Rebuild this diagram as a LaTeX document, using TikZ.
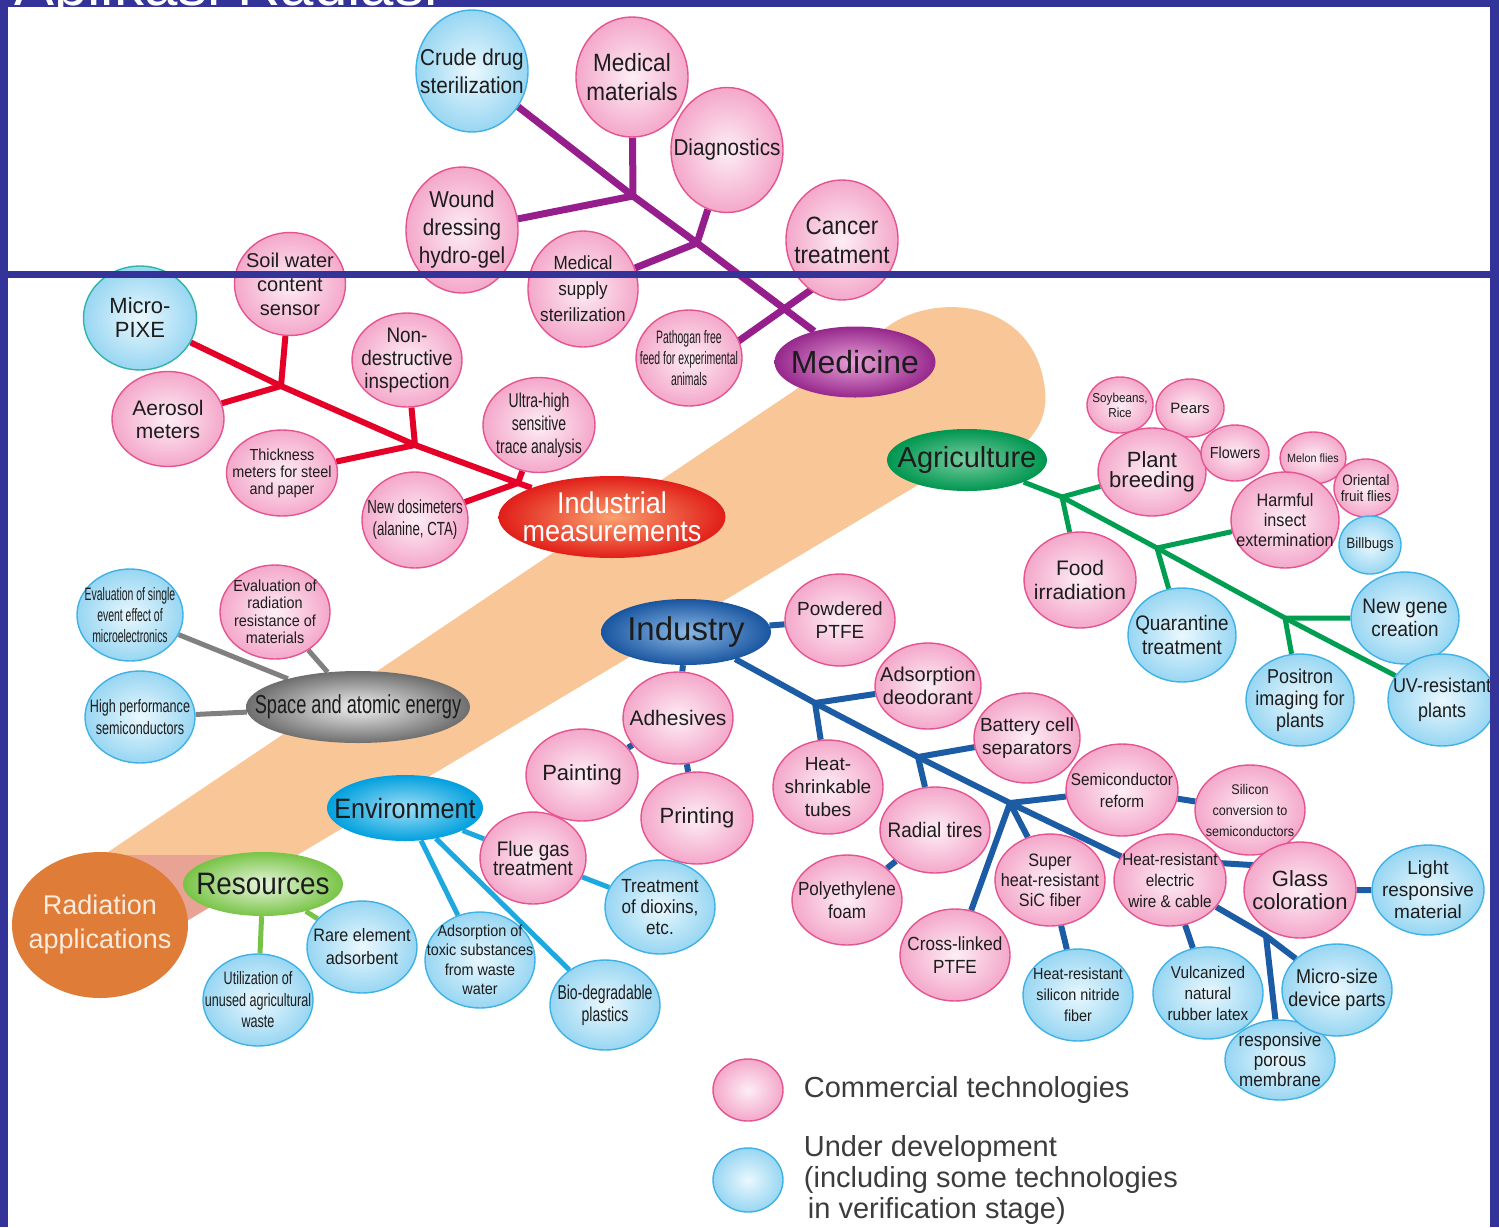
\documentclass[tikz,border=0pt]{standalone}
\usepackage{fontspec}
\setmainfont{Liberation Sans}
\newfontfamily\condfont[FakeStretch=0.9]{Liberation Sans}
\newfontfamily\narrowfont[FakeStretch=0.7]{Liberation Sans}
\newfontfamily\xnarrowfont[FakeStretch=0.58]{Liberation Sans}
\usetikzlibrary{shapes.geometric, positioning, backgrounds}

\newcommand{\fsz}[2]{\fontsize{#1}{#2}\selectfont}

\definecolor{navy}{RGB}{51,51,153}
\definecolor{band}{RGB}{249,198,152}
\definecolor{bandlow}{RGB}{233,163,148}
\definecolor{pinkline}{RGB}{229,84,142}
\definecolor{pinkin}{RGB}{253,238,245}
\definecolor{pinkout}{RGB}{244,168,202}
\definecolor{blueline}{RGB}{62,178,230}
\definecolor{bluein}{RGB}{234,248,254}
\definecolor{blueout}{RGB}{152,214,242}
\definecolor{pixeline}{RGB}{48,180,168}
\definecolor{ink}{RGB}{28,28,28}
\definecolor{legink}{RGB}{60,60,60}
\definecolor{medpurple}{RGB}{150,30,140}
\definecolor{redline}{RGB}{228,0,38}
\definecolor{grnline}{RGB}{0,158,80}
\definecolor{indline}{RGB}{28,92,165}
\definecolor{grayline}{RGB}{128,128,128}
\definecolor{envline}{RGB}{30,168,224}
\definecolor{resline}{RGB}{120,194,72}
\definecolor{medin}{RGB}{232,160,215}
\definecolor{medout}{RGB}{150,40,140}
\definecolor{redin}{RGB}{250,160,110}
\definecolor{redout}{RGB}{225,30,25}
\definecolor{agin}{RGB}{120,205,160}
\definecolor{agout}{RGB}{0,150,80}
\definecolor{indin}{RGB}{140,185,230}
\definecolor{indout}{RGB}{25,85,160}
\definecolor{spin}{RGB}{240,240,240}
\definecolor{spout}{RGB}{110,110,110}
\definecolor{envin}{RGB}{160,222,246}
\definecolor{envout}{RGB}{0,160,222}
\definecolor{resin}{RGB}{232,245,222}
\definecolor{resout}{RGB}{120,196,70}
\definecolor{radfill}{RGB}{222,124,56}
\definecolor{radtext}{RGB}{253,236,222}

\begin{document}
\begin{tikzpicture}[x=1pt, y=-1pt,
      com/.style={ellipse, draw=pinkline, line width=1.4pt, inner color=pinkin, outer color=pinkout,
        inner xsep=-60pt, inner ysep=-56pt, align=center, text=ink},
      dev/.style={com, draw=blueline, inner color=bluein, outer color=blueout},
      topic/.style={ellipse, inner xsep=-120pt, inner ysep=-50pt, align=center, text=ink},
      sz/.style 2 args={minimum width=#1, minimum height=#2},
      twig/.style={draw=#1, line width=6pt, line join=round},
      legtext/.style={inner sep=0pt, text=legink, font=\fsz{29}{31}}
    ]
    \useasboundingbox (0,0) rectangle (1499,1227);

    % medicine
    \node[dev, sz={112}{122}, font={\condfont\fsz{23}{28}}] (crude) at (472,71) {Crude drug\\sterilization};
    \node[com, sz={112}{120}, font={\condfont\fsz{25}{29}}] (medmat) at (632,77) {Medical\\materials};
    \node[com, sz={112}{125}, font={\condfont\fsz{23}{28}}] (diag) at (727,150) {Diagnostics};
    \node[com, sz={112}{126}, font={\condfont\fsz{23}{28}}] (wound) at (462,230) {Wound\\dressing\\hydro-gel};
    \node[com, sz={110}{116}, font={\condfont\fsz{19}{26}}] (medsup) at (583,289) {Medical\\supply\\sterilization};
    \node[com, sz={112}{120}, font={\condfont\fsz{25}{29}}] (cancer) at (842,240) {Cancer\\treatment};
    \node[com, sz={106}{96}, font={\xnarrowfont\fsz{18}{21}}] (pathogen) at (689,358) {Pathogan free\\feed for experimental\\animals};
    \node[topic, sz={161}{71}, inner color=medin, outer color=medout, font=\fsz{32}{34}] (medicine) at (855,362) {Medicine};

    % industrial measurements
    \node[dev, draw=pixeline, sz={113}{104}, font=\fsz{22}{24}] (pixe) at (140,318) {Micro-\\PIXE};
    \node[com, sz={111}{103}, font=\fsz{20}{24}] (soil) at (290,284) {Soil water\\content\\sensor};
    \node[com, sz={112}{95}, font=\fsz{21}{23}] (aerosol) at (168,419) {Aerosol\\meters};
    \node[com, sz={110}{94}, font={\condfont\fsz{21}{23}}] (nondes) at (407,360) {Non-\\destructive\\inspection};
    \node[com, sz={111}{86}, font={\condfont\fsz{16}{17}}] (thick) at (282,473) {Thickness\\meters for steel\\and paper};
    \node[com, sz={112}{95}, font={\narrowfont\fsz{20}{23}}] (ultra) at (539,425) {Ultra-high\\sensitive\\trace analysis};
    \node[com, sz={106}{96}, font={\narrowfont\fsz{19}{22}}] (newdos) at (415,520) {New dosimeters\\(alanine, CTA)};
    \node[topic, sz={227}{82}, inner color=redin, outer color=redout, text=white, font={\condfont\fsz{30}{28}}] (indmeas) at (612,517) {Industrial\\measurements};

    % agriculture
    \node[topic, sz={160}{62}, inner color=agin, outer color=agout, font=\fsz{29}{30}] (agri) at (967,460) {Agriculture};
    \node[com, sz={66}{56}, font={\condfont\fsz{13}{15}}] (soy) at (1120,405) {Soybeans,\\Rice};
    \node[com, sz={68}{58}, font=\fsz{15}{16}] (pears) at (1190,408) {Pears};
    \node[com, sz={108}{88}, font=\fsz{22}{20}] (plant) at (1152,472) {Plant\\breeding};
    \node[com, sz={68}{56}, font={\condfont\fsz{16}{17}}] (flowers) at (1235,453) {Flowers};
    \node[com, sz={66}{52}, font={\condfont\fsz{12}{13}}] (melon) at (1313,458) {Melon flies};
    \node[com, sz={64}{58}, font={\condfont\fsz{15}{16}}] (oriental) at (1366,488) {Oriental\\fruit flies};
    \node[com, sz={108}{96}, font={\condfont\fsz{18}{20}}] (harmful) at (1285,520) {Harmful\\insect\\extermination};
    \node[dev, sz={62}{58}, font={\condfont\fsz{15}{16}}] (billbugs) at (1370,545) {Billbugs};
    \node[com, sz={112}{96}, font=\fsz{21}{24}] (food) at (1080,580) {Food\\irradiation};
    \node[dev, sz={108}{94}, font={\condfont\fsz{21}{24}}] (quar) at (1182,635) {Quarantine\\treatment};
    \node[dev, sz={108}{92}, font={\condfont\fsz{21}{23}}] (newgene) at (1405,618) {New gene\\creation};
    \node[dev, sz={108}{92}, font={\condfont\fsz{20}{22}}] (positron) at (1300,700) {Positron\\imaging for\\plants};
    \node[dev, sz={108}{92}, font={\condfont\fsz{20}{25}}] (uv) at (1442,700) {UV-resistant\\plants};

    % industry
    \node[topic, sz={170}{66}, inner color=indin, outer color=indout, font=\fsz{33}{34}] (industry) at (686,632) {Industry};
    \node[com, sz={110}{92}, font=\fsz{19}{23}] (powd) at (840,620) {Powdered\\PTFE};
    \node[com, sz={110}{92}, font=\fsz{21}{23}] (adhes) at (678,718) {Adhesives};
    \node[com, sz={112}{92}, font=\fsz{22}{23}] (paint) at (582,775) {Painting};
    \node[com, sz={112}{92}, font=\fsz{22}{23}] (print) at (697,818) {Printing};
    \node[com, sz={106}{86}, font=\fsz{20}{23}] (adsorp) at (928,686) {Adsorption\\deodorant};
    \node[com, sz={110}{94}, font=\fsz{19}{23}] (heatsh) at (828,787) {Heat-\\shrinkable\\tubes};
    \node[com, sz={106}{90}, font=\fsz{19}{23}] (battery) at (1027,738) {Battery cell\\separators};
    \node[com, sz={110}{86}, font={\condfont\fsz{21}{23}}] (radial) at (935,830) {Radial tires};
    \node[com, sz={110}{90}, font={\condfont\fsz{19}{23}}] (polyeth) at (847,900) {Polyethylene\\foam};
    \node[com, sz={110}{92}, font={\condfont\fsz{19}{23}}] (crossl) at (955,955) {Cross-linked\\PTFE};
    \node[com, sz={112}{92}, font={\condfont\fsz{17}{22}}] (semic) at (1122,790) {Semiconductor\\reform};
    \node[com, sz={110}{90}, font={\condfont\fsz{14}{21}}] (silicon) at (1250,810) {Silicon\\conversion to\\semiconductors};
    \node[com, sz={110}{92}, font={\condfont\fsz{18}{20}}] (superh) at (1050,880) {Super\\heat-resistant\\SiC fiber};
    \node[com, sz={112}{92}, font={\condfont\fsz{17}{21}}] (wire) at (1170,880) {Heat-resistant\\electric\\wire \& cable};
    \node[com, sz={112}{96}, font=\fsz{22}{23}] (glass) at (1300,890) {Glass\\coloration};
    \node[dev, sz={112}{90}, font=\fsz{19}{22}] (light) at (1428,890) {Light\\responsive\\material};
    \node[dev, sz={110}{92}, font={\condfont\fsz{16}{21}}] (sinitr) at (1078,995) {Heat-resistant\\silicon nitride\\fiber};
    \node[dev, sz={110}{92}, font={\condfont\fsz{17}{21}}] (vulc) at (1208,993) {Vulcanized\\natural\\rubber latex};
    \node[dev, sz={110}{80}, font={\condfont\fsz{19}{20}}] (porous) at (1280,1060) {responsive\\porous\\membrane};
    \node[dev, sz={110}{92}, font={\condfont\fsz{20}{23}}] (micro) at (1337,990) {Micro-size\\device parts};

    % space and atomic energy
    \node[topic, sz={224}{72}, inner color=spin, outer color=spout, font={\narrowfont\fsz{26}{28}}] (space) at (358,707) {Space and atomic energy};
    \node[dev, sz={106}{92}, font={\xnarrowfont\fsz{18}{21}}] (evsingle) at (130,615) {Evaluation of single\\event effect of\\microelectronics};
    \node[com, sz={110}{94}, font={\condfont\fsz{16}{17.5}}] (evrad) at (275,612) {Evaluation of\\radiation\\resistance of\\materials};
    \node[dev, sz={110}{92}, font={\narrowfont\fsz{18}{22}}] (highperf) at (140,717) {High performance\\semiconductors};

    % environment and resources
    \node[topic, sz={156}{66}, inner color=envin, outer color=envout, font={\condfont\fsz{28}{30}}] (env) at (405,808) {Environment};
    \node[com, sz={106}{92}, font={\condfont\fsz{21}{19}}] (flue) at (533,858) {Flue gas\\treatment};
    \node[dev, sz={110}{94}, font={\condfont\fsz{19}{21}}] (dioxin) at (660,907) {Treatment\\of dioxins,\\etc.};
    \node[dev, sz={110}{96}, font={\condfont\fsz{16}{19.5}}] (adstox) at (480,960) {Adsorption of\\toxic substances\\from waste\\water};
    \node[dev, sz={110}{90}, font={\narrowfont\fsz{20}{22}}] (biodeg) at (605,1005) {Bio-degradable\\plastics};
    \node[topic, sz={160}{64}, inner color=resin, outer color=resout, font={\condfont\fsz{31}{32}}] (res) at (263,884) {Resources};
    \node[dev, sz={110}{92}, font={\condfont\fsz{18}{23}}] (rare) at (362,947) {Rare element\\adsorbent};
    \node[dev, sz={110}{92}, font={\narrowfont\fsz{18}{21.5}}] (util) at (258,1000) {Utilization of\\unused agricultural\\waste};
    \node[ellipse, fill=radfill, sz={176}{146}, inner xsep=-90pt, inner ysep=-70pt, align=center,
      text=radtext, font=\fsz{27}{34}] (radapp) at (100,925) {Radiation\\applications};

    % legend
    \node[com, sz={70}{62}] (legcom) at (748,1090) {};
    \node[dev, sz={70}{64}] (legdev) at (748,1180) {};
    \node[legtext, right=20pt of legcom] (legcomtxt) {Commercial technologies};
    \node[legtext, right=20pt of legdev, align=left] (legdevtxt) {Under development\\(including some technologies\\\hspace*{4pt}in verification stage)};

    \begin{pgfonlayer}{background}
      \fill[band] (59,885) -- (880,333) .. controls (925,290) and (1035,295) .. (1045,390)
        .. controls (1052,450) and (980,475) .. (923,482) -- (185,922) -- cycle;
      \begin{scope}
        \clip (0,855) rectangle (400,1000);
        \fill[bandlow] (59,885) -- (880,333) .. controls (925,290) and (1035,295) .. (1045,390)
          .. controls (1052,450) and (980,475) .. (923,482) -- (185,922) -- cycle;
      \end{scope}

      \coordinate (mj1) at (633,196);
      \coordinate (mj2) at (697,243);
      \draw[twig=medpurple, line width=7pt] (crude) -- (mj1) -- (mj2) -- (medicine);
      \draw[twig=medpurple, line width=7pt] (medmat) -- (mj1) (wound) -- (mj1) (diag) -- (mj2) (medsup) -- (mj2);
      \draw[twig=medpurple, line width=7pt] ([yshift=-28pt]cancer.center) -- ([yshift=-18pt]pathogen.center);

      \coordinate (ij1) at (281,386);
      \coordinate (ij2) at (415,445);
      \coordinate (ij3) at (518,483);
      \draw[twig=redline] (pixe) -- (ij1) -- (ij2) -- (ij3) -- (indmeas);
      \draw[twig=redline] (soil) -- (ij1) (aerosol) -- (ij1) (nondes) -- (ij2) (thick) -- (ij2)
        (ultra) -- (ij3) (newdos) -- (ij3);

      \coordinate (aj1) at (1062,497);
      \coordinate (aj2) at (1157,548);
      \coordinate (aj3) at (1285,618);
      \draw[twig=grnline, line width=5pt] (agri) -- (aj1) -- (aj2) -- (aj3) -- (uv);
      \draw[twig=grnline, line width=5pt] (plant) -- (aj1) (food) -- (aj1) (harmful) -- (aj2) (quar) -- (aj2)
        (newgene) -- (aj3) (positron) -- (aj3);

      \coordinate (dj1) at (815,703);
      \coordinate (dj2) at (918,757);
      \coordinate (dj3) at (1010,803);
      \coordinate (wj) at (1266,936);
      \draw[twig=indline] (industry) -- (dj1) -- (dj2) -- (dj3) -- (wire);
      \draw[twig=indline] (industry) -- (powd) (industry) -- (adhes) (adhes) -- (paint) (adhes) -- (print)
        (dj1) -- (adsorp) (dj1) -- (heatsh) (dj2) -- (battery) (dj2) -- (radial) (radial) -- (polyeth)
        (dj3) -- (semic) (dj3) -- (crossl) (dj3) -- (superh) (semic) -- (silicon)
        (glass) -- (light) (superh) -- (sinitr) (wire) -- (vulc);
      \draw[twig=indline] ([yshift=20pt]wire.center) -- ([yshift=22pt]glass.center);
      \draw[twig=indline] (wire) -- (wj) -- (micro) (wj) -- (porous);

      \draw[twig=grayline, line width=5pt] (evsingle) -- (space) (evrad) -- (space) (highperf) -- (space);
      \draw[twig=envline, line width=5pt] (env) -- (flue) (flue) -- (dioxin) (env) -- (adstox) (env) -- (biodeg);
      \draw[twig=resline, line width=5pt] (res) -- (util) (res) -- (rare);
    \end{pgfonlayer}

    % frame of the slide
    \fill[navy] (0,0) rectangle (1499,7);
    \fill[navy] (0,0) rectangle (8,1227);
    \fill[navy] (1490,0) rectangle (1499,1227);
    \fill[navy] (0,271) rectangle (1499,278);
    \begin{scope}
      \clip (0,0) rectangle (1499,7);
      \node[anchor=base west, inner sep=0pt, text=white, font=\fsz{60}{60}] (title) at (14,5) {Aplikasi Radiasi};
    \end{scope}
\end{tikzpicture}
\end{document}
